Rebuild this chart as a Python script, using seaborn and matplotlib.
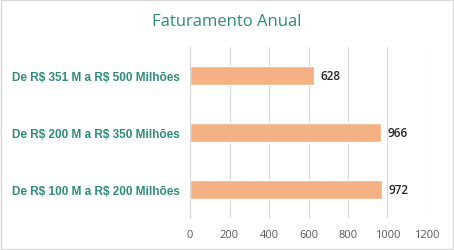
import matplotlib
matplotlib.use("Agg")
import matplotlib.pyplot as plt
import seaborn as sns
import pandas as pd

categories = ["De R$ 351 M a R$ 500 Milhões",
              "De R$ 200 M a R$ 350 Milhões",
              "De R$ 100 M a R$ 200 Milhões"]
values = [628, 966, 972]
xticks = [0, 200, 400, 600, 800, 1000, 1200]
title = "Faturamento Anual"

sns.set_theme(style="white")
plt.rcParams['font.family'] = ['Open Sans', 'DejaVu Sans']
plt.rcParams['text.parse_math'] = False

df = pd.DataFrame({"cat": categories, "val": values})

fig = plt.figure(figsize=(4.54, 2.51), dpi=100)
ax = fig.add_axes([190/454, 1-219/251, 237/454, 171/251])

sns.barplot(data=df, y="cat", x="val", orient="h", color="#f4b183",
            width=0.35, saturation=1, ax=ax)

ax.set_xlim(0, 1200)
ax.set_ylim(2.5, -0.5)
ax.set_xticks(xticks)
ax.set_xticklabels([str(t) for t in xticks], color="#595959", fontsize=8)
ax.tick_params(axis="x", length=0, pad=8)
ax.tick_params(axis="y", length=0, pad=7.5)
for lbl in ax.get_yticklabels():
    lbl.set_color("#2e8c7a")
    lbl.set_fontsize(8.5)
    lbl.set_fontfamily(["Liberation Sans", "DejaVu Sans"])
    lbl.set_fontweight("bold")
ax.grid(axis="x", color="#d9d9d9", linewidth=0.8)
ax.set_axisbelow(True)
for s in ["top", "right", "bottom"]:
    ax.spines[s].set_visible(False)
ax.spines["left"].set_color("#d9d9d9")
ax.spines["left"].set_linewidth(0.8)
ax.set_xlabel("")
ax.set_ylabel("")

for i, v in enumerate(values):
    ax.text(v + 35, i, str(v), va="center", ha="left", fontsize=8.5,
            color="#262626", fontweight="semibold")

fig.text(0.5, 1-22/251, title, ha="center", va="center", fontsize=12,
         color="#2e8c7a")

border = plt.Rectangle((0.002, 0.004), 0.995, 0.992, transform=fig.transFigure,
                       fill=False, edgecolor="#d9d9d9", linewidth=1)
fig.patches.append(border)

fig.savefig("out.png", dpi=100)
